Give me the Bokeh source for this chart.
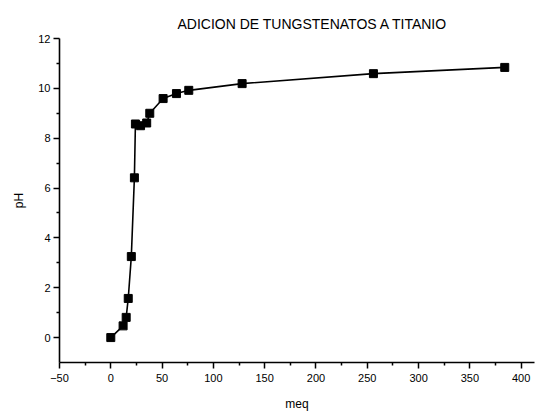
from bokeh.plotting import figure
from bokeh.models import FixedTicker, Range1d
from bokeh.embed import file_html
from bokeh.resources import INLINE

meq = [0, 12, 15, 17, 20, 23, 24, 29, 35, 38, 51, 64, 76, 128, 256, 384]
ph = [0.0, 0.47, 0.81, 1.57, 3.25, 6.41, 8.57, 8.5, 8.61, 9.0, 9.59, 9.79, 9.92, 10.19, 10.59, 10.84]
x_ticks = [-50, 0, 50, 100, 150, 200, 250, 300, 350, 400]
x_minor = [-25, 25, 75, 125, 175, 225, 275, 325, 375]
y_ticks = [0, 2, 4, 6, 8, 10, 12]
y_minor = [1, 3, 5, 7, 9, 11]
title_text = "ADICION DE TUNGSTENATOS A TITANIO"

FONT = "Liberation Sans"

p = figure(width=542, height=415, output_backend="svg", toolbar_location=None,
           x_range=Range1d(-50, 413), y_range=Range1d(-1, 12),
           min_border_left=59, min_border_right=8, min_border_top=38, min_border_bottom=53)
p.outline_line_color = None
p.xgrid.grid_line_color = None
p.ygrid.grid_line_color = None
p.background_fill_color = "white"

p.title.text = title_text
p.title.align = "left"
p.title.offset = 118
p.title.text_font = FONT
p.title.text_font_size = "14px"
p.title.text_font_style = "normal"
p.title.text_color = "black"
p.title.standoff = 13

p.line(meq, ph, line_color="black", line_width=1.6)
p.scatter(meq, ph, marker="square", size=8, fill_color="black", line_color="black")

for ax, ticks, minor in ((p.xaxis[0], x_ticks, x_minor), (p.yaxis[0], y_ticks, y_minor)):
    ax.ticker = FixedTicker(ticks=ticks, minor_ticks=minor)
    ax.axis_line_color = "black"
    ax.axis_line_width = 1.6
    ax.major_tick_line_color = "black"
    ax.major_tick_line_width = 1.5
    ax.minor_tick_line_color = "black"
    ax.minor_tick_line_width = 1.5
    ax.major_tick_in = 0
    ax.major_tick_out = 6
    ax.minor_tick_in = 0
    ax.minor_tick_out = 3
    ax.major_label_text_font = FONT
    ax.major_label_text_font_size = "11px"
    ax.major_label_text_color = "black"
    ax.axis_label_text_font = FONT
    ax.axis_label_text_font_size = "12px"
    ax.axis_label_text_font_style = "normal"
    ax.axis_label_text_color = "black"
    ax.major_label_standoff = 3

p.xaxis.major_label_standoff = 5
p.xaxis.axis_label = "meq"
p.yaxis.axis_label = "pH"
p.xaxis.axis_label_standoff = 12
p.yaxis.axis_label_standoff = 9

open("out.html", "w").write(file_html(p, INLINE))
